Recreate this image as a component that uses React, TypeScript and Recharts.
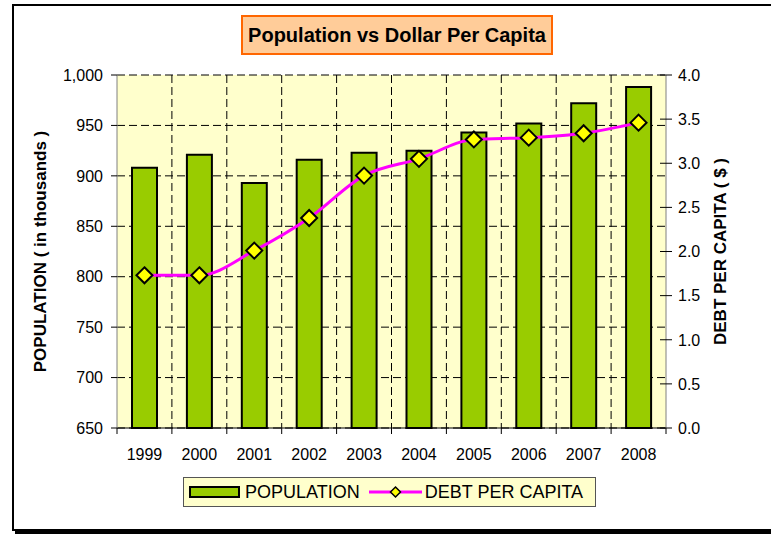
import React from "react";
import {
  ComposedChart,
  Bar,
  Line,
  XAxis,
  YAxis,
  CartesianGrid,
} from "recharts";

const years = ["1999", "2000", "2001", "2002", "2003", "2004", "2005", "2006", "2007", "2008"];
const population = [908, 921, 893, 916, 923, 925, 943, 952, 972, 988];
const debtPerCapita = [1.73, 1.73, 2.01, 2.38, 2.86, 3.05, 3.27, 3.29, 3.34, 3.46];
const popTicks = [650, 700, 750, 800, 850, 900, 950, 1000];
const debtTicks = [0, 0.5, 1, 1.5, 2, 2.5, 3, 3.5, 4];

const data = years.map((year, i) => ({
  year,
  population: population[i],
  debt: debtPerCapita[i],
}));

const FONT = "'Liberation Sans', Arial, sans-serif";
const W = 771;
const H = 535;
const LEFT_W = 117;
const RIGHT_W = 105;
const PLOT_W = W - LEFT_W - RIGHT_W;

function XTick(props: any) {
  const { x, y, payload, index } = props;
  const half = payload && payload.offset ? payload.offset : PLOT_W / years.length / 2;
  return (
    <g>
      <line x1={x - half} x2={x - half} y1={y - 8} y2={y - 2} stroke="#000" />
      {index === years.length - 1 && (
        <line x1={x + half} x2={x + half} y1={y - 8} y2={y - 2} stroke="#000" />
      )}
      <text x={x} y={y + 24} textAnchor="middle" fontSize={16} fontFamily={FONT} fill="#000">
        {payload.value}
      </text>
    </g>
  );
}

function RightTick(props: any) {
  const { x, y, payload } = props;
  return (
    <g>
      <line x1={x - 18} x2={x - 6} y1={y} y2={y} stroke="#000" />
      <text x={x} y={y} dy="0.36em" textAnchor="start" fontSize={16} fontFamily={FONT} fill="#000">
        {payload.value.toFixed(1)}
      </text>
    </g>
  );
}

function Diamond(props: any) {
  const { cx, cy, index } = props;
  const r = 8;
  return (
    <path
      key={index}
      d={`M${cx},${cy - r} L${cx + r},${cy} L${cx},${cy + r} L${cx - r},${cy} Z`}
      fill="#FFFF00"
      stroke="#000"
      strokeWidth={2}
    />
  );
}

function AxisTitle({ viewBox, value, dx }: any) {
  const cx = viewBox.x + dx;
  const cy = viewBox.y + viewBox.height / 2;
  return (
    <text
      x={cx}
      y={cy}
      transform={`rotate(-90, ${cx}, ${cy})`}
      textAnchor="middle"
      dominantBaseline="central"
      fontSize={17}
      fontWeight="bold"
      fontFamily={FONT}
      fill="#000"
    >
      {value}
    </text>
  );
}

export default function App() {
  return (
    <div
      style={{
        position: "absolute",
        left: 0,
        top: 0,
        width: W,
        height: H,
        overflow: "hidden",
        background: "#fff",
        fontFamily: FONT,
      }}
    >
      <div
        style={{
          position: "absolute",
          left: 12,
          top: 4,
          width: 800,
          height: 527,
          boxSizing: "border-box",
          border: "2px solid #000",
          boxShadow: "3px 3px 0 #000",
        }}
      />
      <div style={{ position: "absolute", left: 0, top: 0 }}>
        <ComposedChart
          width={W}
          height={H}
          data={data}
          margin={{ top: 75, right: 0, bottom: 77, left: 0 }}
        >
          <CartesianGrid
            yAxisId="left"
            fill="#FFFFCC"
            fillOpacity={1}
            stroke="#000"
            strokeDasharray="8 4"
            verticalCoordinatesGenerator={({ offset }: any) =>
              years.slice(1).map((_, i) => offset.left + ((i + 1) * offset.width) / years.length)
            }
          />
          <XAxis
            dataKey="year"
            height={30}
            axisLine={{ stroke: "#000" }}
            tickLine={false}
            tickSize={6}
            tickMargin={2}
            tick={<XTick />}
            interval={0}
          />
          <YAxis
            yAxisId="left"
            orientation="left"
            width={LEFT_W}
            domain={[650, 1000]}
            ticks={popTicks}
            interval={0}
            axisLine={{ stroke: "#808080" }}
            tickLine={{ stroke: "#000" }}
            tickSize={6}
            tickMargin={8}
            tick={{ fontSize: 16, fontFamily: FONT, fill: "#000" }}
            tickFormatter={(v: number) => v.toLocaleString("en-US")}
            label={<AxisTitle value="POPULATION ( in thousands )" dx={40} />}
          />
          <YAxis
            yAxisId="right"
            orientation="right"
            width={RIGHT_W}
            domain={[0, 4]}
            ticks={debtTicks}
            interval={0}
            axisLine={{ stroke: "#808080" }}
            tickLine={false}
            tickSize={6}
            tickMargin={6}
            tick={<RightTick />}
            label={<AxisTitle value="DEBT PER CAPITA ( $ )" dx={54} />}
          />
          <Bar
            yAxisId="left"
            dataKey="population"
            name="POPULATION"
            fill="#99CC00"
            stroke="#000"
            strokeWidth={2}
            barSize={25}
            isAnimationActive={false}
          />
          <Line
            yAxisId="right"
            type="monotone"
            dataKey="debt"
            name="DEBT PER CAPITA"
            stroke="#FF00FF"
            strokeWidth={3}
            dot={<Diamond />}
            activeDot={false}
            isAnimationActive={false}
          />
        </ComposedChart>
      </div>
      <div
        style={{
          position: "absolute",
          left: 241,
          top: 15,
          width: 312,
          height: 40,
          boxSizing: "border-box",
          border: "2px solid #FF6600",
          background: "#FFCC99",
          display: "flex",
          alignItems: "center",
          justifyContent: "center",
          fontSize: 20,
          fontWeight: "bold",
          color: "#000",
        }}
      >
        Population vs Dollar Per Capita
      </div>
      <div
        style={{
          position: "absolute",
          left: 183,
          top: 477,
          width: 413,
          height: 30,
          boxSizing: "border-box",
          border: "1px solid #555",
          background: "#FFFFCC",
          display: "flex",
          alignItems: "center",
          fontSize: 18,
          color: "#000",
          whiteSpace: "nowrap",
        }}
      >
        <div
          style={{
            marginLeft: 5,
            width: 51,
            height: 12,
            boxSizing: "border-box",
            border: "2px solid #000",
            background: "#99CC00",
          }}
        />
        <span style={{ marginLeft: 5 }}>POPULATION</span>
        <svg width={53} height={14} style={{ marginLeft: 9 }}>
          <line x1={0} x2={53} y1={7} y2={7} stroke="#FF00FF" strokeWidth={3} />
          <path d="M26.5,2 L31.5,7 L26.5,12 L21.5,7 Z" fill="#FFFF00" stroke="#000" strokeWidth={1.5} />
        </svg>
        <span style={{ marginLeft: 3 }}>DEBT PER CAPITA</span>
      </div>
    </div>
  );
}
